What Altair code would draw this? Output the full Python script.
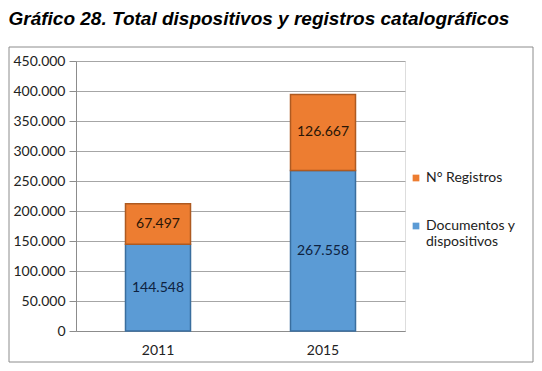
import altair as alt
import pandas as pd

years = ["2011", "2015"]
series = ["Documentos y dispositivos", "N° Registros"]
documentos = [144548, 267558]
registros = [67497, 126667]
y_ticks = [0, 50000, 100000, 150000, 200000, 250000, 300000, 350000, 400000, 450000]

def fmt(v):
    return f"{v:,}".replace(",", ".")

rows = []
for i, yr in enumerate(years):
    rows.append({"year": yr, "serie": series[0], "value": documentos[i], "ord": 0, "label": fmt(documentos[i])})
    rows.append({"year": yr, "serie": series[1], "value": registros[i], "ord": 1, "label": fmt(registros[i])})
df = pd.DataFrame(rows)

W, H = 329, 270
FONT = "Lato"

color_scale = alt.Scale(domain=[series[1], series[0]], range=["#ED7D31", "#5B9BD5"])
stroke_scale = alt.Scale(domain=[series[1], series[0]], range=["#AE5A21", "#3A6E9E"])

x_axis = alt.Axis(labelAngle=0, ticks=False, labelPadding=12, labelFontSize=14,
                  labelColor="#222222", labelFont=FONT, domainColor="#8c8c8c", grid=False)
y_axis = alt.Axis(values=y_ticks, labelFontSize=14, labelColor="#222222",
                  labelFont=FONT, labelExpr="replace(format(datum.value, ','), /,/g, '.')",
                  labelOverlap=False, gridColor="#a6a6a6", domainColor="#8c8c8c",
                  tickColor="#8c8c8c", tickSize=7, labelPadding=4)
x_scale = alt.Scale(paddingInner=0.606, paddingOuter=0.3)
y_scale = alt.Scale(domain=[0, 450000])

base = alt.Chart(df)

bars = base.mark_bar(strokeWidth=1.5).encode(
    x=alt.X("year:N", title=None, scale=x_scale, axis=x_axis),
    y=alt.Y("value:Q", title=None, stack="zero", scale=y_scale, axis=y_axis),
    color=alt.Color("serie:N", scale=color_scale, title=None, sort=[series[1], series[0]],
                    legend=alt.Legend(orient="none", legendX=333, legendY=110,
                                      symbolType="square", symbolSize=45,
                                      symbolStrokeWidth=0, labelFontSize=14, labelFont=FONT,
                                      labelColor="#222222", rowPadding=34, labelLimit=200,
                                      labelOffset=3,
                                      labelExpr="datum.label == 'Documentos y dispositivos' ? ['Documentos y', 'dispositivos'] : datum.label")),
    stroke=alt.Stroke("serie:N", scale=stroke_scale, legend=None),
    order=alt.Order("ord:Q"),
)

labels = base.transform_stack(
    stack="value", groupby=["year"], as_=["y0", "y1"], sort=[alt.SortField("ord")]
).transform_calculate(
    mid="(datum.y0 + datum.y1) / 2"
).mark_text(fontSize=14, font=FONT).encode(
    x=alt.X("year:N", title=None, scale=x_scale, axis=x_axis),
    y=alt.Y("mid:Q", title=None, scale=y_scale, axis=y_axis),
    text="label:N",
    color=alt.Color("serie:N", scale=alt.Scale(domain=[series[1], series[0]], range=["#2a1606", "#0e2240"]), legend=None),
)

frame = alt.Chart(pd.DataFrame({"k": [0]})).mark_rect(
    fill=None, stroke="#8c8c8c", strokeWidth=1
).encode(
    x=alt.value(-67), x2=alt.value(457), y=alt.value(-14), y2=alt.value(301)
)

chart = alt.layer(frame, bars, labels).resolve_scale(color="independent").properties(
    width=W, height=H,
    title=alt.TitleParams(
        "Gráfico 28. Total dispositivos y registros catalográficos",
        anchor="start", offset=18, fontSize=19, font="Liberation Sans",
        fontStyle="italic", fontWeight="bold", color="#000000", limit=0,
    ),
    autosize=alt.AutoSizeParams(type="none"),
    padding={"left": 68, "top": 53, "right": 129, "bottom": 32},
).configure_view(stroke=None).configure(background="white")

chart.save("out.html", embed_options={"renderer": "svg", "actions": False})
